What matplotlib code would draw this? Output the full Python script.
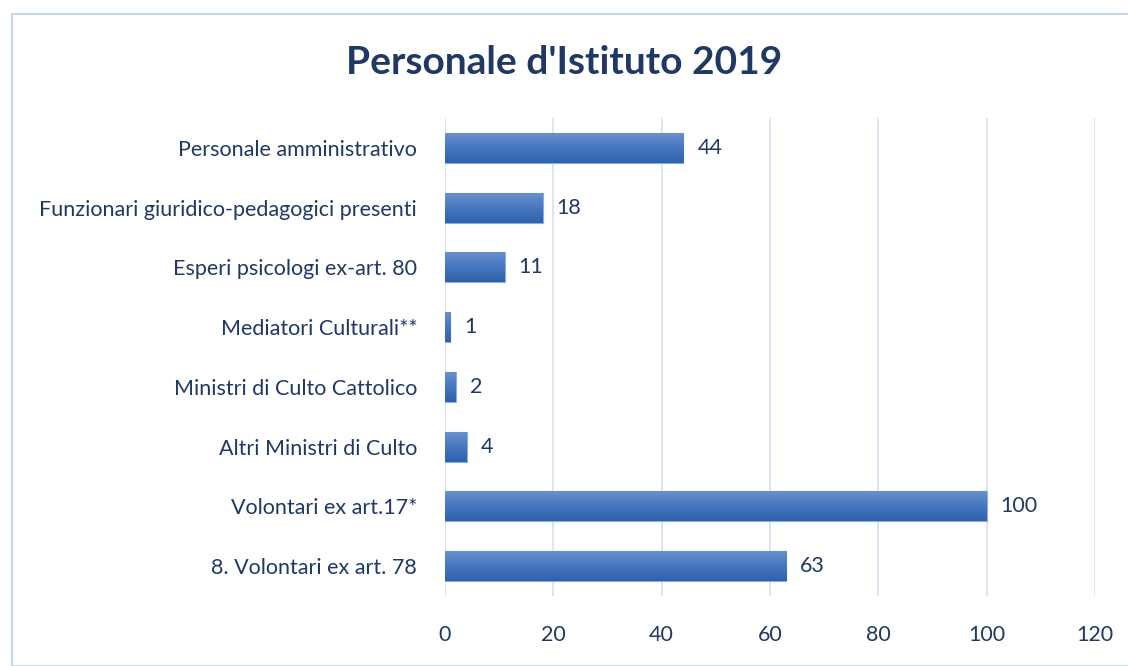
import matplotlib
matplotlib.use("Agg")
import matplotlib.pyplot as plt
import numpy as np
from matplotlib.patches import Rectangle
from matplotlib.colors import LinearSegmentedColormap

categories = [
    "Personale amministrativo",
    "Funzionari giuridico-pedagogici presenti",
    "Esperi psicologi ex-art. 80",
    "Mediatori Culturali**",
    "Ministri di Culto Cattolico",
    "Altri Ministri di Culto",
    "Volontari ex art.17*",
    "8. Volontari ex art. 78",
]
values = [44, 18, 11, 1, 2, 4, 100, 63]
xticks = [0, 20, 40, 60, 80, 100, 120]

txt = "#1F3864"
plt.rcParams['font.family'] = ['Lato', 'DejaVu Sans']

fig = plt.figure(figsize=(11.28, 6.66), dpi=100)
fig.patches.append(Rectangle((12/1128, 0), 1.2, 1 - 14/666, transform=fig.transFigure,
                             fill=False, edgecolor="#C9D6E8", linewidth=1.5))
ax = fig.add_axes([445/1128, 1 - 596/666, 650/1128, (596 - 118)/666])

y = np.arange(len(categories))
cmap = LinearSegmentedColormap.from_list("g", ["#6890CD", "#4676C0", "#2F62AC"])
bars = ax.barh(y, values, height=0.5, color="#4676C0", edgecolor="#8AAEDD", linewidth=0.8, zorder=3)
grad = np.linspace(0, 1, 64).reshape(-1, 1)
for b in bars:
    x0, y0 = b.get_x(), b.get_y()
    w, h = b.get_width(), b.get_height()
    im = ax.imshow(grad, cmap=cmap, aspect="auto", extent=[x0, x0 + w, y0, y0 + h],
                   origin="lower", zorder=3.5)
    im.set_clip_path(b)
    ax.text(x0 + w + 2.6, y0 + h / 2, str(int(w)), va="center", ha="left",
            fontsize=15.5, color=txt, zorder=5)

ax.set_xlim(0, 120)
ax.set_ylim(len(categories) - 0.5, -0.5)
ax.set_xticks(xticks)
ax.set_xticklabels([str(t) for t in xticks])
ax.set_yticks(y)
ax.set_yticklabels(categories)
ax.tick_params(axis="both", length=0, labelsize=15.5, labelcolor=txt)
ax.tick_params(axis="x", pad=21)
ax.tick_params(axis="y", pad=20)
ax.grid(axis="x", color="#D6E1F0", linewidth=1.2, zorder=0)
for s in ax.spines.values():
    s.set_visible(False)

fig.text(0.5, 1 - 63/666, "Personale d'Istituto 2019", ha="center", va="center",
         fontsize=28, fontweight="bold", color=txt)

fig.savefig("out.png", dpi=100)
